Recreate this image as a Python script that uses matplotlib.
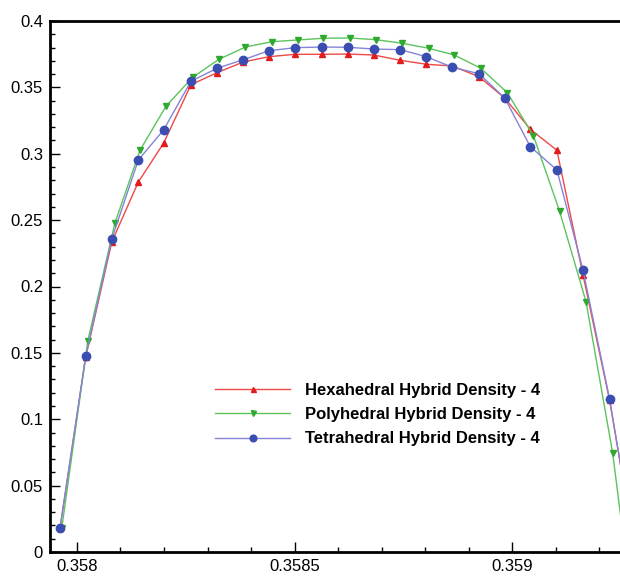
import matplotlib
matplotlib.use("Agg")
import matplotlib.pyplot as plt
from matplotlib.ticker import MultipleLocator, FormatStrFormatter

plt.rcParams['font.family'] = ['Liberation Sans', 'DejaVu Sans']

# hexahedral and tetrahedral share one x grid
x_ht = [0.357961, 0.358020, 0.358080, 0.358141, 0.358199, 0.358262, 0.358322,
        0.358382, 0.358441, 0.358501, 0.358563, 0.358622, 0.358682, 0.358743,
        0.358803, 0.358863, 0.358924, 0.358983, 0.359042, 0.359103, 0.359163,
        0.359224, 0.359283]
hexa = [0.0179, 0.1467, 0.2335, 0.2787, 0.3079, 0.3520, 0.3611, 0.3691, 0.3731,
        0.3749, 0.3749, 0.3751, 0.3744, 0.3704, 0.3674, 0.3661, 0.3580, 0.3420,
        0.3184, 0.3026, 0.2087, 0.1145, 0.0]
tetra = [0.0179, 0.1474, 0.2358, 0.2953, 0.3179, 0.3546, 0.3644, 0.3708, 0.3776,
         0.3799, 0.3804, 0.3802, 0.3789, 0.3784, 0.3731, 0.3651, 0.3603, 0.3420,
         0.3053, 0.2878, 0.2124, 0.1153, 0.0]

x_poly = [0.357965, 0.358025, 0.358087, 0.358145, 0.358205, 0.358266, 0.358326,
          0.358387, 0.358448, 0.358507, 0.358566, 0.358628, 0.358688, 0.358748,
          0.358809, 0.358867, 0.358928, 0.358989, 0.359049, 0.359109, 0.359170,
          0.359231, 0.359260]
poly = [0.0179, 0.1592, 0.2476, 0.3028, 0.3360, 0.3576, 0.3711, 0.3804, 0.3844,
        0.3857, 0.3870, 0.3872, 0.3859, 0.3832, 0.3794, 0.3744, 0.3644, 0.3460,
        0.3136, 0.2569, 0.1885, 0.0748, 0.0]

labels = ["Hexahedral Hybrid Density - 4",
          "Polyhedral Hybrid Density - 4",
          "Tetrahedral Hybrid Density - 4"]

fig = plt.figure(figsize=(6.2, 5.79), dpi=100)
ax = fig.add_axes([50/620, 27/579, 570/620, 531/579])

ax.plot(x_ht, hexa, color='#f04848', lw=1.0, marker='^', ms=4.5,
        mfc='#e01c1c', mec='#e01c1c', label=labels[0])
ax.plot(x_poly, poly, color='#5cc45c', lw=1.0, marker='v', ms=4.5,
        mfc='#2ea82e', mec='#2ea82e', label=labels[1])
ax.plot(x_ht, tetra, color='#8484d8', lw=1.0, marker='o', ms=6,
        mfc='#3a4db0', mec='#3a4db0', label=labels[2])

ax.set_xlim(0.357938, 0.359248)
ax.set_ylim(0, 0.4)

ax.xaxis.set_major_locator(MultipleLocator(0.0005))
ax.xaxis.set_minor_locator(MultipleLocator(0.0001))
ax.yaxis.set_major_locator(MultipleLocator(0.05))
ax.yaxis.set_minor_locator(MultipleLocator(0.01))
ax.xaxis.set_major_formatter(FormatStrFormatter('%g'))
ax.yaxis.set_major_formatter(FormatStrFormatter('%g'))

ax.tick_params(which='both', direction='in', top=False, right=False,
               width=1.0, labelsize=12, colors='black')
ax.tick_params(which='major', length=7, pad=5)
ax.tick_params(which='minor', length=3.5)
for s in ['left', 'bottom', 'top']:
    ax.spines[s].set_linewidth(2.0)
ax.spines['right'].set_visible(False)

ax.legend(loc='upper left', bbox_to_anchor=(215/620, 1 - 383/579),
          bbox_transform=fig.transFigure, frameon=False, borderpad=0,
          borderaxespad=0, handlelength=4.5, handletextpad=0.9,
          labelspacing=0.55, markerscale=0.8,
          prop={'weight': 'bold', 'size': 12})

fig.savefig("out.png", dpi=100)
